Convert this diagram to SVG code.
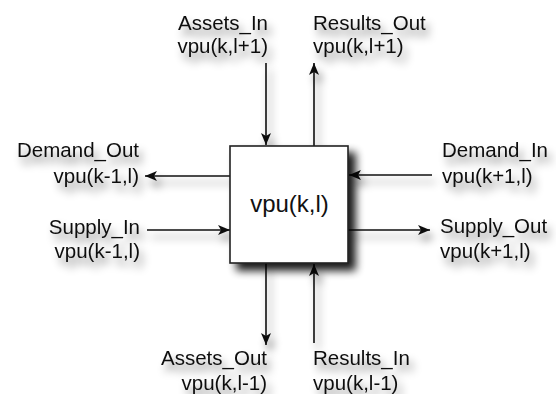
<svg xmlns="http://www.w3.org/2000/svg" width="556" height="394" viewBox="0 0 556 394">
<defs>
<style>
text{font-family:"Liberation Sans",Arial,sans-serif;font-size:20.5px;fill:#111}
.c{font-size:24px}
.ln{stroke:#111;stroke-width:1.6;fill:none}
.box{fill:#fff;stroke:#222;stroke-width:1.6}
</style>
<filter id="sh" x="-30%" y="-60%" width="160%" height="220%">
<feGaussianBlur in="SourceAlpha" stdDeviation="4"/>
<feOffset dx="4" dy="7" result="b"/>
<feComponentTransfer><feFuncA type="linear" slope="0.5"/></feComponentTransfer>
<feMerge><feMergeNode/><feMergeNode in="SourceGraphic"/></feMerge>
</filter>
<filter id="bsh" x="-20%" y="-20%" width="150%" height="150%">
<feGaussianBlur in="SourceAlpha" stdDeviation="4.5"/>
<feOffset dx="7" dy="7"/>
<feComponentTransfer><feFuncA type="linear" slope="0.9"/></feComponentTransfer>
<feMerge><feMergeNode/><feMergeNode in="SourceGraphic"/></feMerge>
</filter>
<marker id="ah" viewBox="0 0 12 10" refX="12" refY="5" markerWidth="12" markerHeight="10" markerUnits="userSpaceOnUse" orient="auto">
<path d="M0,0 L12,5 L0,10 L3,5 Z" fill="#111"/>
</marker>
</defs>
<rect width="556" height="394" fill="#fff"/>
<g id="connectors" filter="url(#sh)">
<line class="ln" x1="266" y1="63" x2="266" y2="145" marker-end="url(#ah)"/>
<line class="ln" x1="314" y1="146" x2="314" y2="63" marker-end="url(#ah)"/>
<line class="ln" x1="230" y1="176" x2="145" y2="176" marker-end="url(#ah)"/>
<line class="ln" x1="147" y1="230" x2="230" y2="230" marker-end="url(#ah)"/>
<line class="ln" x1="432" y1="175" x2="349" y2="175" marker-end="url(#ah)"/>
<line class="ln" x1="348" y1="230" x2="430" y2="230" marker-end="url(#ah)"/>
<line class="ln" x1="266" y1="263" x2="266" y2="345" marker-end="url(#ah)"/>
<line class="ln" x1="314" y1="343" x2="314" y2="264" marker-end="url(#ah)"/>
</g>
<g id="vpu_kl">
<rect class="box" x="230" y="146" width="118" height="117" filter="url(#bsh)"/>
<text class="c" x="289.5" y="212" text-anchor="middle">vpu(k,l)</text>
</g>
<g id="assets_in" filter="url(#sh)">
<text x="268" y="30" text-anchor="end">Assets_In</text>
<text x="268" y="53" text-anchor="end">vpu(k,l+1)</text>
</g>
<g id="results_out" filter="url(#sh)">
<text x="313" y="30">Results_Out</text>
<text x="313" y="53">vpu(k,l+1)</text>
</g>
<g id="demand_out" filter="url(#sh)">
<text x="139" y="157" text-anchor="end">Demand_Out</text>
<text x="139" y="183" text-anchor="end">vpu(k-1,l)</text>
</g>
<g id="supply_in" filter="url(#sh)">
<text x="140" y="234" text-anchor="end">Supply_In</text>
<text x="140" y="258" text-anchor="end">vpu(k-1,l)</text>
</g>
<g id="demand_in" filter="url(#sh)">
<text x="442" y="157">Demand_In</text>
<text x="442" y="183">vpu(k+1,l)</text>
</g>
<g id="supply_out" filter="url(#sh)">
<text x="440" y="233">Supply_Out</text>
<text x="440" y="258">vpu(k+1,l)</text>
</g>
<g id="assets_out" filter="url(#sh)">
<text x="267" y="365" text-anchor="end">Assets_Out</text>
<text x="267" y="390" text-anchor="end">vpu(k,l-1)</text>
</g>
<g id="results_in" filter="url(#sh)">
<text x="313" y="365">Results_In</text>
<text x="313" y="390">vpu(k,l-1)</text>
</g>
</svg>
